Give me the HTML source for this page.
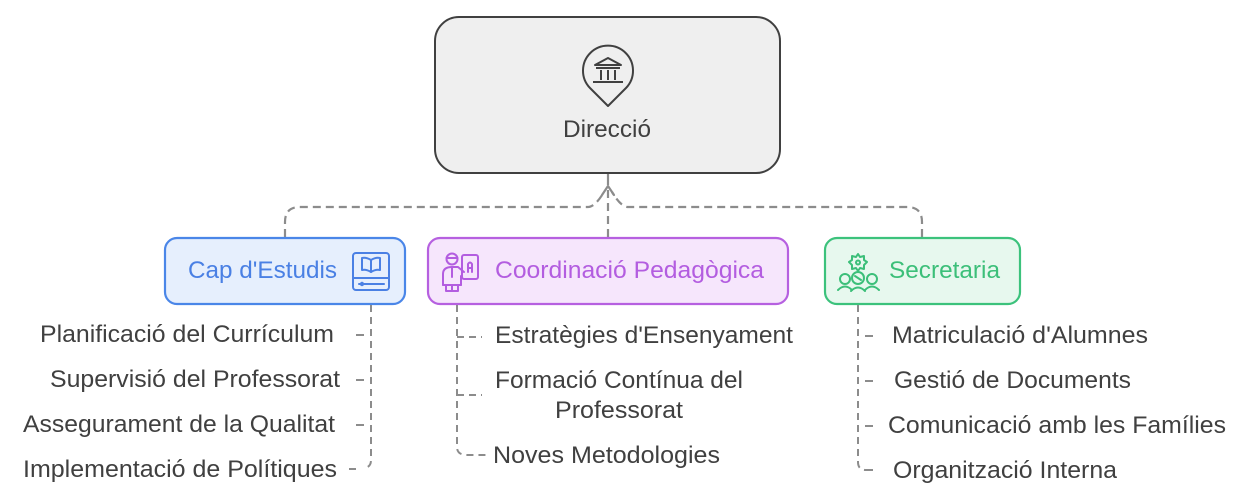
<!DOCTYPE html>
<html>
<head>
<meta charset="utf-8">
<style>
  html,body{margin:0;padding:0;background:#ffffff;}
  svg{display:block;}
  text{font-family:"Liberation Sans", Arial, sans-serif;}
</style>
</head>
<body>
<svg width="1245" height="500" viewBox="0 0 1245 500" xmlns="http://www.w3.org/2000/svg">
  <!-- Connectors top -->
  <g fill="none" stroke="#8c8c8c" stroke-width="2.2" stroke-dasharray="8 5" stroke-linecap="butt">
    <path d="M285 237 L285 222 Q285 207 300 207 L588 207 Q595 207 604 192"/>
    <path d="M922 237 L922 222 Q922 207 907 207 L628 207 Q621 207 612 192"/>
    <path d="M608 237 L608 182"/>
  </g>
  <path d="M608 174 L608 182" stroke="#8c8c8c" stroke-width="2.2"/>
  <path d="M602 195 L608 186 L614 195" fill="none" stroke="#8c8c8c" stroke-width="2.2" stroke-linecap="round" stroke-linejoin="round"/>

  <!-- Direcció box -->
  <rect x="435" y="17" width="345" height="156" rx="24" ry="24" fill="#efefef" stroke="#404040" stroke-width="2"/>
  <!-- pin icon -->
  <path d="M608 106 L590 88 A25 25 0 1 1 626 88 Z" fill="none" stroke="#404040" stroke-width="2" stroke-linejoin="round"/>
  <g fill="none" stroke="#404040" stroke-width="2">
    <path d="M608 58 L595 65 L621 65 Z" stroke-linejoin="round"/>
    <line x1="596" y1="68" x2="620" y2="68"/>
    <line x1="601" y1="70" x2="601" y2="80"/>
    <line x1="608" y1="70" x2="608" y2="80"/>
    <line x1="615" y1="70" x2="615" y2="80"/>
    <line x1="593" y1="82" x2="623" y2="82"/>
  </g>
  <text x="563" y="137" font-size="24" fill="#404040" textLength="88" lengthAdjust="spacingAndGlyphs">Direcció</text>

  <!-- Cap d'Estudis box -->
  <rect x="165" y="238" width="240" height="66" rx="12" ry="12" fill="#e6effd" stroke="#4a86e8" stroke-width="2.2"/>
  <text x="188" y="278" font-size="24" fill="#4a80e4" textLength="149" lengthAdjust="spacingAndGlyphs">Cap d'Estudis</text>
  <g fill="none" stroke="#4a80e4" stroke-width="2" stroke-linecap="round" stroke-linejoin="round">
    <rect x="353" y="253" width="36" height="37" rx="3"/>
    <line x1="353" y1="278" x2="389" y2="278"/>
    <path d="M371 260 Q366 257 362 258 L362 270 Q366 269 371 272 Q376 269 380 270 L380 258 Q376 257 371 260 Z"/>
    <line x1="371" y1="260" x2="371" y2="272"/>
    <line x1="359" y1="284" x2="384" y2="284"/>
    <circle cx="362" cy="284" r="1.2" fill="#4a80e4"/>
  </g>

  <!-- Coordinació Pedagògica box -->
  <rect x="428" y="238" width="360" height="66" rx="12" ry="12" fill="#f6e6fc" stroke="#b660e0" stroke-width="2.2"/>
  <text x="495" y="278" font-size="24" fill="#b35de0" textLength="269" lengthAdjust="spacingAndGlyphs">Coordinació Pedagògica</text>
  <g fill="none" stroke="#b35de0" stroke-width="2" stroke-linecap="round" stroke-linejoin="round">
    <circle cx="452" cy="259" r="5.5"/>
    <path d="M446.5 258 L457.5 258"/>
    <rect x="462" y="255" width="16" height="24" rx="2"/>
    <path d="M468 272 L468 264 Q470 261 472 264 L472 272 M468 268 L472 268"/>
    <path d="M443 285 L443 274 Q443 267 452 267 L458 267 L464 272"/>
    <path d="M461 276 L461 285"/>
    <path d="M446 285 L446 291 L458 291 L458 285 M452 285 L452 291"/>
    <path d="M443 285 L461 285"/>
    <path d="M452 267 L452 277"/>
  </g>

  <!-- Secretaria box -->
  <rect x="825" y="238" width="195" height="66" rx="12" ry="12" fill="#e7f8ee" stroke="#3cc27c" stroke-width="2.2"/>
  <text x="889" y="278" font-size="24" fill="#3cbf79" textLength="111" lengthAdjust="spacingAndGlyphs">Secretaria</text>
  <g fill="none" stroke="#3cbf79" stroke-width="2" stroke-linecap="round" stroke-linejoin="round">
    <path d="M858 254 L860 257 L864 256 L864 260 L867 262 L864 265 L864 269 L860 268 L858 271 L856 268 L852 269 L852 265 L849 262 L852 260 L852 256 L856 257 Z"/>
    <circle cx="858" cy="262.5" r="2"/>
    <circle cx="845" cy="279" r="5"/>
    <circle cx="858" cy="278" r="6"/>
    <circle cx="872" cy="279" r="5"/>
    <path d="M855 276 L861 280"/>
    <path d="M838 290 Q845 283 852 290"/>
    <path d="M851 291 Q858 284 865 291"/>
    <path d="M865 290 Q872 283 879 290"/>
  </g>

  <!-- List connectors -->
  <g fill="none" stroke="#8c8c8c" stroke-width="2" stroke-dasharray="7 5">
    <path d="M371 305 L371 460 Q371 468 363 468"/>
    <path d="M457 305 L457 447 Q457 455 467 455 L490 455"/>
    <path d="M858 305 L858 462 Q858 470 866 470"/>
    <path d="M457 337 L482 337"/>
    <path d="M457 395 L482 395"/>
  </g>
  <g stroke="#8c8c8c" stroke-width="2">
    <line x1="356" y1="335" x2="364" y2="335"/>
    <line x1="356" y1="380" x2="364" y2="380"/>
    <line x1="356" y1="425" x2="364" y2="425"/>
    <line x1="349" y1="469" x2="356" y2="469"/>
    <line x1="865" y1="336" x2="873" y2="336"/>
    <line x1="865" y1="381" x2="873" y2="381"/>
    <line x1="865" y1="426" x2="873" y2="426"/>
    <line x1="866" y1="470" x2="873" y2="470"/>
  </g>

  <!-- List texts -->
  <g font-size="24" fill="#404040">
    <text x="40" y="342" textLength="294" lengthAdjust="spacingAndGlyphs">Planificació del Currículum</text>
    <text x="50" y="387" textLength="290" lengthAdjust="spacingAndGlyphs">Supervisió del Professorat</text>
    <text x="23" y="432" textLength="312" lengthAdjust="spacingAndGlyphs">Assegurament de la Qualitat</text>
    <text x="23" y="477" textLength="314" lengthAdjust="spacingAndGlyphs">Implementació de Polítiques</text>

    <text x="495" y="343" textLength="298" lengthAdjust="spacingAndGlyphs">Estratègies d'Ensenyament</text>
    <text x="495" y="388" textLength="248" lengthAdjust="spacingAndGlyphs">Formació Contínua del</text>
    <text x="555" y="418" textLength="128" lengthAdjust="spacingAndGlyphs">Professorat</text>
    <text x="493" y="463" textLength="227" lengthAdjust="spacingAndGlyphs">Noves Metodologies</text>

    <text x="892" y="343" textLength="256" lengthAdjust="spacingAndGlyphs">Matriculació d'Alumnes</text>
    <text x="894" y="388" textLength="237" lengthAdjust="spacingAndGlyphs">Gestió de Documents</text>
    <text x="888" y="433" textLength="338" lengthAdjust="spacingAndGlyphs">Comunicació amb les Famílies</text>
    <text x="893" y="478" textLength="224" lengthAdjust="spacingAndGlyphs">Organització Interna</text>
  </g>
</svg>
</body>
</html>
